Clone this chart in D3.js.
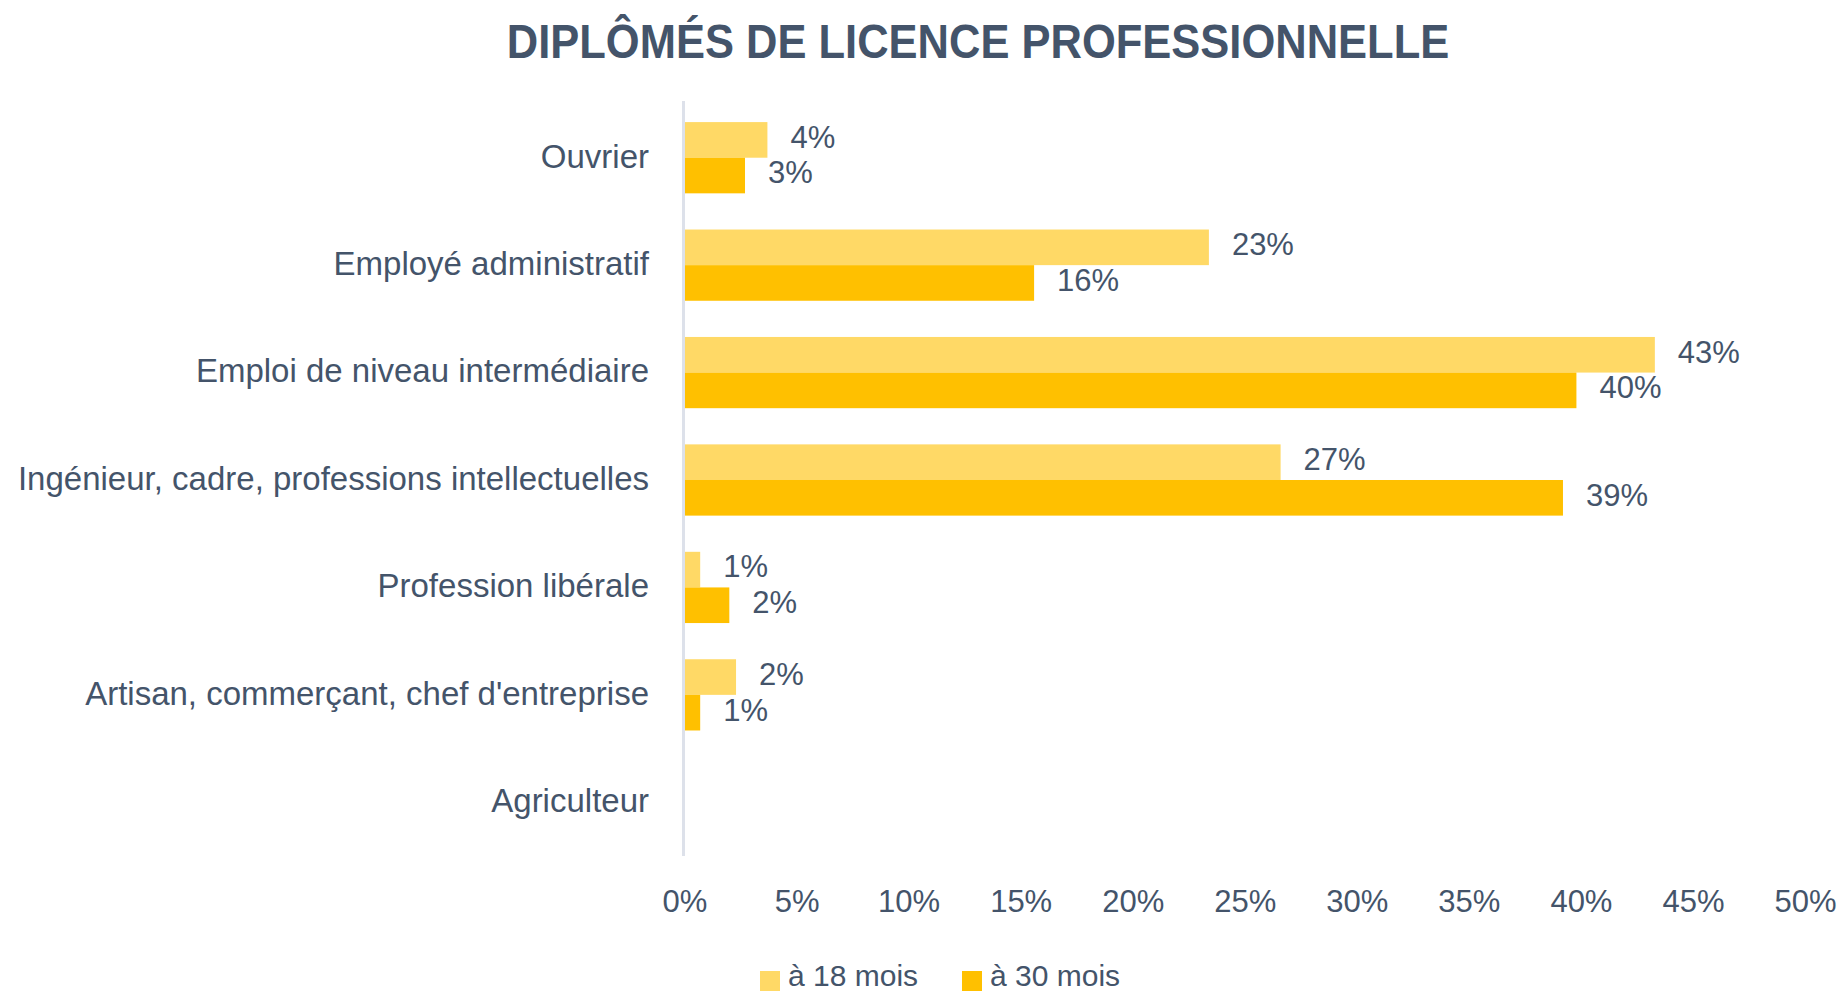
<!DOCTYPE html>
<html>
<head>
<meta charset="utf-8">
<script src="https://cdn.jsdelivr.net/npm/d3@7"></script>
<style>
  html, body { margin: 0; padding: 0; background: #ffffff; }
  svg { display: block; }
  text { font-family: "Liberation Sans", Arial, sans-serif; fill: #44546A; }
</style>
</head>
<body>
<svg id="chart" width="1844" height="995"></svg>
<script>
const title = "DIPLÔMÉS DE LICENCE PROFESSIONNELLE";
const categories = [
  "Ouvrier",
  "Employé administratif",
  "Emploi de niveau intermédiaire",
  "Ingénieur, cadre, professions intellectuelles",
  "Profession libérale",
  "Artisan, commerçant, chef d'entreprise",
  "Agriculteur"
];
const seriesNames = ["à 18 mois", "à 30 mois"];
const values18 = [0.037, 0.234, 0.433, 0.266, 0.007, 0.023, 0];
const values30 = [0.027, 0.156, 0.398, 0.392, 0.020, 0.007, 0];
const seriesColors = ["#FFD966", "#FFC000"];
const tickValues = [0, 0.05, 0.10, 0.15, 0.20, 0.25, 0.30, 0.35, 0.40, 0.45, 0.50];

const svg = d3.select("#chart");

const x = d3.scaleLinear().domain([0, 0.5]).range([684.5, 1805]);
const y0 = d3.scaleBand().domain(categories).range([104, 856]).paddingInner(0).paddingOuter(0);
const y1 = d3.scaleBand().domain(seriesNames).range([0, y0.bandwidth()]).paddingInner(0).paddingOuter(0.508);
const fmt = d3.format(".0%");

// Title
svg.append("text")
  .attr("transform", "translate(978,58) scale(1,1.1)")
  .attr("text-anchor", "middle")
  .style("font-size", "43.5px")
  .style("font-weight", "bold")
  .text(title);

// Bars
const rows = categories.map((c, i) => ({ cat: c, vals: [values18[i], values30[i]] }));
const groups = svg.append("g").selectAll("g").data(rows).join("g")
  .attr("transform", d => `translate(0,${y0(d.cat)})`);

groups.selectAll("rect")
  .data(d => d.vals.map((v, k) => ({ v, k })).filter(e => e.v > 0))
  .join("rect")
  .attr("x", x(0))
  .attr("y", e => y1(seriesNames[e.k]))
  .attr("width", e => x(e.v) - x(0))
  .attr("height", y1.bandwidth())
  .attr("fill", e => seriesColors[e.k]);

groups.selectAll("text")
  .data(d => d.vals.map((v, k) => ({ v, k })).filter(e => e.v > 0))
  .join("text")
  .attr("x", e => x(e.v) + 23)
  .attr("y", e => y1(seriesNames[e.k]) + y1.bandwidth() / 2 - 3)
  .attr("dy", "0.35em")
  .style("font-size", "31px")
  .text(e => fmt(e.v));

// Vertical axis line
svg.append("line")
  .attr("x1", 683.5).attr("x2", 683.5)
  .attr("y1", 101).attr("y2", 856)
  .attr("stroke", "#DDE1EA")
  .attr("stroke-width", 3);

// Category axis
const yAxis = svg.append("g")
  .attr("transform", `translate(684,0)`)
  .call(d3.axisLeft(y0).tickSize(0).tickPadding(35));
yAxis.select(".domain").remove();
yAxis.selectAll("text")
  .attr("fill", "#44546A")
  .attr("dy", "0.3em")
  .style("font-size", "33px")
  .style("font-family", "'Liberation Sans', Arial, sans-serif");

// Value axis
const xAxis = svg.append("g")
  .attr("transform", `translate(0,890)`)
  .call(d3.axisBottom(x).tickValues(tickValues).tickFormat(fmt).tickSize(0).tickPadding(0));
xAxis.select(".domain").remove();
xAxis.selectAll("text")
  .attr("fill", "#44546A")
  .attr("dy", "0.71em")
  .attr("y", 0)
  .style("font-size", "31px")
  .style("font-family", "'Liberation Sans', Arial, sans-serif");

// Legend
const legendX = [760, 962];
const legend = svg.append("g").selectAll("g").data(seriesNames).join("g")
  .attr("transform", (d, i) => `translate(${legendX[i]},971)`);
legend.append("rect")
  .attr("width", 20).attr("height", 20)
  .attr("fill", (d, i) => seriesColors[i]);
legend.append("text")
  .attr("x", 28).attr("y", 15)
  .style("font-size", "30px")
  .text(d => d);
</script>
</body>
</html>
